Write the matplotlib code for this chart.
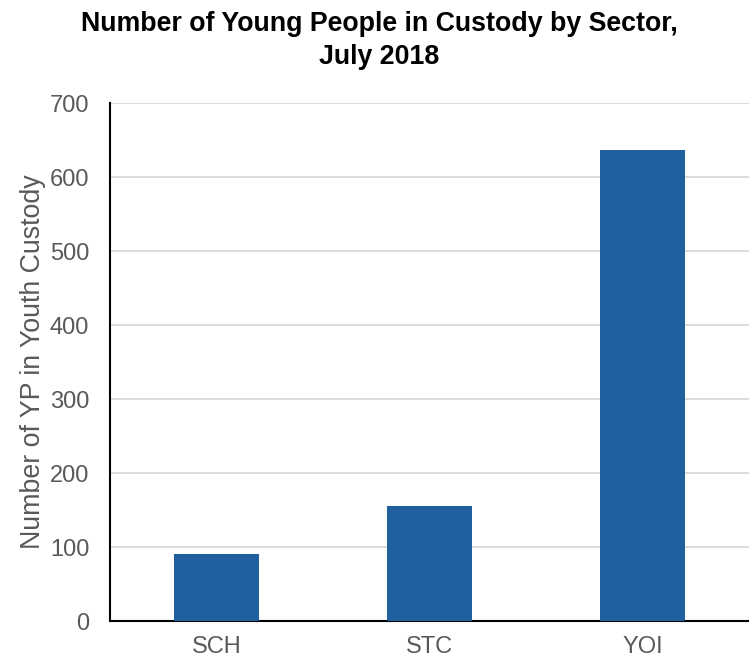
import matplotlib
matplotlib.use("Agg")
import matplotlib.pyplot as plt

categories = ["SCH", "STC", "YOI"]
values = [90, 155, 636]
yticks = [0, 100, 200, 300, 400, 500, 600, 700]

plt.rcParams['font.family'] = ['Liberation Sans', 'DejaVu Sans']

fig = plt.figure(figsize=(7.49, 6.60), dpi=100)
ax = fig.add_axes([110/749, 39/660, 639/749, 518/660])

ax.bar(categories, values, width=0.4, color='#1F619E', zorder=3)
ax.set_ylim(0, 700)
ax.set_xlim(-0.5, 2.5)
ax.set_yticks(yticks)
ax.grid(axis='y', color='#D9D9D9', linewidth=1.3, zorder=0)
ax.set_axisbelow(True)
for s in ['top', 'right']:
    ax.spines[s].set_visible(False)
ax.spines['left'].set_linewidth(1.5)
ax.spines['bottom'].set_linewidth(1.5)
ax.tick_params(axis='both', length=0, labelsize=17, labelcolor='#595959')
ax.tick_params(axis='y', pad=15)
ax.tick_params(axis='x', pad=11)
ax.set_ylabel("Number of YP in Youth Custody", fontsize=19.3, color='#595959', labelpad=3)

fig.suptitle("Number of Young People in Custody by Sector,\nJuly 2018",
             fontsize=19.3, fontweight='bold', x=0.506, y=0.984, va='top', linespacing=1.35)

fig.savefig("out.png", dpi=100)
